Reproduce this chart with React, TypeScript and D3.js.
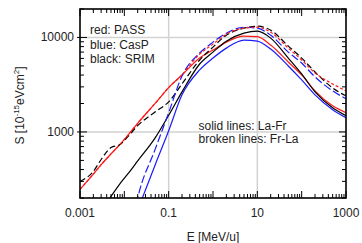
import React from 'react';
import * as d3 from 'd3';

// energies (MeV/u) shared by all curves
const energy = [0.001, 0.002, 0.003, 0.005, 0.008, 0.012, 0.02, 0.05, 0.1, 0.2, 0.5, 1, 2, 5, 10, 20, 50, 100, 200, 500, 1000];

// stopping power, 1e-15 eVcm2 (null = not drawn)
const passLaFr = [247, 358, 450, 585, 740, 920, 1235, 2015, 2950, 4010, 6050, 7350, 8930, 10330, 10190, 8300, 5500, 4010, 2720, 1890, 1600];
const passFrLa = [247, 358, 450, 585, 740, 920, 1235, 2015, 2950, 4010, 6670, 8500, 10840, 12530, 12830, 11370, 7710, 5770, 4210, 3220, 2720];
const caspLaFr = [null, null, null, null, null, null, 149, 453, 1030, 2470, 4530, 6050, 7710, 9370, 9140, 7530, 4990, 3550, 2470, 1717, 1415];
const caspFrLa = [null, null, null, null, null, 60, 200, 662, 1597, 3915, 6840, 8920, 11100, 12830, 12530, 10570, 7000, 5370, 3820, 2720, 2240];
const srimLaFr = [null, 118, 152, 208, 284, 359, 493, 871, 1500, 2655, 5235, 7000, 9140, 11100, 11650, 9840, 6050, 4110, 2655, 1800, 1485];
const srimFrLa = [300, 382, 511, 684, 735, 891, 1165, 1636, 2084, 3223, 5770, 7910, 10570, 12530, 13150, 11940, 8100, 6050, 4310, 2926, 2410];

const xTickLabels = ['0.001', '0.1', '10', '1000'];
const yTickLabels = ['1000', '10000'];
const legendLines = ['red: PASS', 'blue: CasP', 'black: SRIM'];
const styleLines = ['solid lines: La-Fr', 'broken lines: Fr-La'];

const series = [
  { values: passLaFr, color: '#ff1a1a', dash: null },
  { values: caspLaFr, color: '#1a1aff', dash: null },
  { values: srimLaFr, color: '#000000', dash: null },
  { values: srimFrLa, color: '#000000', dash: '6,3' },
  { values: caspFrLa, color: '#1a1aff', dash: '8,3' },
  { values: passFrLa, color: '#ff1a1a', dash: '3,2' },
];

const W = 362;
const H = 243;
const m = { left: 80, right: 16, top: 9, bottom: 45 };
const font = '"Liberation Sans", Arial, sans-serif';

export default function App() {
  const iw = W - m.left - m.right;
  const ih = H - m.top - m.bottom;
  const x = d3.scaleLog().domain([0.001, 1000]).range([0, iw]);
  const y = d3.scaleLog().domain([200, 20000]).range([ih, 0]);

  const line = d3.line<[number, number]>()
    .x(d => x(d[0]))
    .y(d => y(d[1]))
    .curve(d3.curveMonotoneX);

  // minor/major ticks for log axes
  const xTicks: { v: number; major: boolean }[] = [];
  for (let e = -3; e < 3; e++) {
    for (let k = 1; k < 10; k++) xTicks.push({ v: k * Math.pow(10, e), major: k === 1 });
  }
  xTicks.push({ v: 1000, major: true });
  const yTicks: { v: number; major: boolean }[] = [];
  for (let e = 2; e < 5; e++) {
    for (let k = 1; k < 10; k++) {
      const v = k * Math.pow(10, e);
      if (v >= 200 && v <= 20000) yTicks.push({ v, major: k === 1 });
    }
  }

  const tickLen = (major: boolean) => (major ? 7 : 4);

  return (
    <svg width={W} height={H} style={{ position: 'absolute', left: 0, top: 0, background: '#fff' }}>
      <defs>
        <clipPath id="plot">
          <rect x={0} y={0} width={iw} height={ih} />
        </clipPath>
      </defs>
      <g transform={`translate(${m.left},${m.top})`}>
        {/* grid */}
        {[0.1, 10].map(v => (
          <line key={'gx' + v} x1={x(v)} x2={x(v)} y1={0} y2={ih} stroke="#d2d2d2" strokeWidth={1.5} />
        ))}
        {yTickLabels.map(t => (
          <line key={'gy' + t} x1={0} x2={iw} y1={y(+t)} y2={y(+t)} stroke="#d2d2d2" strokeWidth={1.5} />
        ))}

        {/* curves */}
        <g clipPath="url(#plot)">
          {series.map((s, i) => {
            const pts = energy
              .map((e, j) => [e, s.values[j]] as [number, number | null])
              .filter(p => p[1] != null) as [number, number][];
            return (
              <path
                key={i}
                d={line(pts) || ''}
                fill="none"
                stroke={s.color}
                strokeWidth={1.2}
                strokeDasharray={s.dash || undefined}
              />
            );
          })}
        </g>

        {/* ticks */}
        {xTicks.map((t, i) => (
          <g key={'xt' + i}>
            <line x1={x(t.v)} x2={x(t.v)} y1={ih} y2={ih - tickLen(t.major)} stroke="#000" strokeWidth={1} />
            <line x1={x(t.v)} x2={x(t.v)} y1={0} y2={tickLen(t.major)} stroke="#000" strokeWidth={1} />
          </g>
        ))}
        {yTicks.map((t, i) => (
          <g key={'yt' + i}>
            <line x1={t.major ? -3 : 0} x2={tickLen(t.major)} y1={y(t.v)} y2={y(t.v)} stroke="#000" strokeWidth={1} />
            <line x1={iw} x2={iw - tickLen(t.major)} y1={y(t.v)} y2={y(t.v)} stroke="#000" strokeWidth={1} />
          </g>
        ))}

        <rect x={0} y={0} width={iw} height={ih} fill="none" stroke="#000" strokeWidth={1.6} />

        {/* tick labels */}
        {xTickLabels.map(t => (
          <text key={t} x={x(+t)} y={ih + 19} textAnchor="middle" fontFamily={font} fontSize={12} fill="#222">
            {t}
          </text>
        ))}
        {yTickLabels.map(t => (
          <text key={t} x={-6} y={y(+t) + 4} textAnchor="end" fontFamily={font} fontSize={12} fill="#222">
            {t}
          </text>
        ))}

        {/* legend */}
        {legendLines.map((t, i) => (
          <text key={t} x={10} y={25 + i * 14.5} fontFamily={font} fontSize={12} fill="#222">
            {t}
          </text>
        ))}
        {styleLines.map((t, i) => (
          <text key={t} x={118.5} y={120.5 + i * 13.5} fontFamily={font} fontSize={12} fill="#222">
            {t}
          </text>
        ))}
      </g>

      {/* axis titles */}
      <text x={m.left + iw / 2} y={241} textAnchor="middle" fontFamily={font} fontSize={12} fill="#222">
        E [MeV/u]
      </text>
      <text
        transform={`translate(24,${m.top + ih / 2 + 2}) rotate(-90)`}
        textAnchor="middle"
        fontFamily={font}
        fontSize={12}
        fill="#222"
      >
        S [10<tspan dy={-5} fontSize={8}>-15</tspan>
        <tspan dy={5}>eVcm</tspan>
        <tspan dy={-5} fontSize={8}>2</tspan>
        <tspan dy={5}>]</tspan>
      </text>
    </svg>
  );
}
